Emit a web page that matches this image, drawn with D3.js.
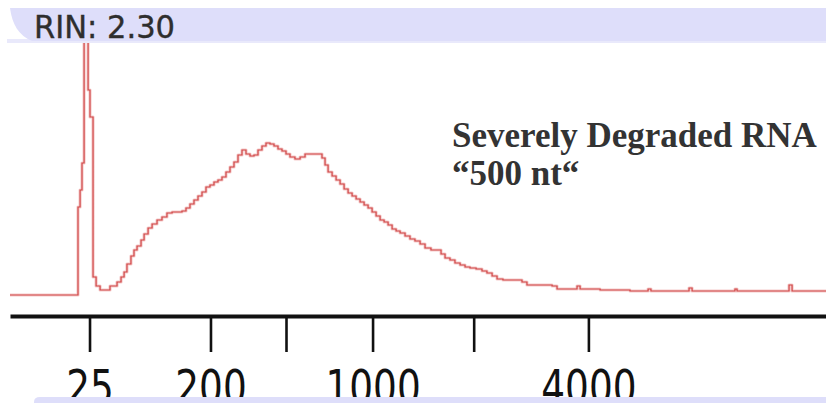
<!DOCTYPE html>
<html>
<head>
<meta charset="utf-8">
<script src="https://cdn.jsdelivr.net/npm/d3@7"></script>
<style>
  body { margin: 0; background: #fff; }
  svg { display: block; }
</style>
</head>
<body>
<div class="canvas"></div>
<script>
// migration time (s) and fluorescence (FU)
const times = [19.00, 23.19, 23.25, 23.38, 23.50, 23.63, 23.75, 23.88, 24.00, 24.19,
  24.38, 24.63, 25.00, 25.25, 25.69, 25.94, 26.13, 26.31, 26.56, 26.75,
  26.94, 27.19, 27.38, 27.63, 27.88, 28.19, 28.50, 28.81, 29.13, 29.44,
  29.75, 30.00, 30.25, 30.50, 30.75, 31.00, 31.25, 31.50, 31.75, 32.00,
  32.25, 32.50, 32.75, 33.00, 33.25, 33.50, 33.75, 34.00, 34.25, 34.50,
  34.75, 35.00, 35.25, 35.50, 35.75, 36.00, 36.25, 36.50, 36.81, 37.13,
  37.44, 37.88, 38.25, 38.50, 38.69, 38.88, 39.13, 39.38, 39.63, 39.88,
  40.13, 40.38, 40.63, 40.88, 41.13, 41.38, 41.63, 41.88, 42.13, 42.38,
  42.63, 42.88, 43.13, 43.38, 43.69, 44.00, 44.31, 44.63, 44.94, 45.31,
  45.69, 45.94, 46.19, 46.50, 46.81, 47.13, 47.44, 47.75, 48.13, 48.50,
  48.81, 49.13, 49.44, 49.81, 50.69, 51.00, 51.31, 52.88, 53.19, 54.25,
  54.44, 54.63, 55.88, 57.75, 58.75, 58.88, 59.06, 61.31, 61.44, 61.63,
  64.19, 64.31, 64.44, 67.56, 67.69, 67.88, 70.00];

const fu = [0, 0, 17.6, 21.0, 26.4, 55, 55, 41.0, 35.6, 3.6,
  1.8, 1.0, 1.0, 1.8, 2.6, 3.6, 4.6, 6.2, 7.8, 9.0,
  9.8, 11.0, 12.2, 13.4, 14.2, 15.0, 15.6, 16.4, 16.6, 16.6,
  16.8, 17.4, 18.2, 19.0, 19.8, 20.6, 21.6, 22.0, 22.6, 23.0,
  23.6, 24.6, 25.6, 26.6, 28.0, 29.0, 28.2, 27.8, 28.0, 29.0,
  29.8, 30.4, 30.2, 29.8, 29.2, 28.8, 28.2, 27.6, 27.2, 27.6,
  28.2, 28.2, 28.2, 27.4, 26.0, 24.6, 23.8, 23.0, 22.2, 21.2,
  20.4, 19.8, 19.2, 18.6, 18.0, 17.4, 16.6, 15.8, 15.0, 14.6,
  14.0, 13.2, 12.8, 12.4, 11.8, 11.2, 10.8, 10.2, 9.4, 9.0,
  9.0, 8.2, 7.4, 7.0, 6.4, 6.0, 5.6, 5.4, 5.2, 4.8,
  4.4, 3.8, 3.2, 3.0, 3.0, 2.6, 2.0, 1.8, 1.2, 1.2,
  1.8, 1.2, 1.0, 0.8, 0.8, 1.2, 0.8, 0.8, 1.4, 0.8,
  0.8, 1.2, 0.8, 0.8, 2.0, 0.8, 0.8];

// ladder sizes (nt) and where they migrate (s)
const ladderNt = [25, 200, 500, 1000, 2000, 4000];
const ladderTimes = [23.97, 31.53, 36.25, 41.66, 47.98, 55.15];
const labeledNt = [25, 200, 1000, 4000];

const rinText = "RIN: 2.30";
const titleLines = ["Severely Degraded RNA", "\u201C500 nt\u201C"];

const W = 826, H = 403;

const svg = d3.select(".canvas").append("svg").attr("width", W).attr("height", H);

const x = d3.scaleLinear().domain([19, 70]).range([10, 826]);
const y = d3.scaleLinear().domain([0, 50]).range([295, 45]);

const trace = times.map((t, i) => [t, fu[i]]);

const line = d3.line()
    .x(d => x(d[0]))
    .y(d => y(d[1]))
    .curve(d3.curveStepAfter);

// soft pink halo under the red trace
svg.append("path")
    .datum(trace)
    .attr("d", line)
    .attr("fill", "none")
    .attr("stroke", "#f5cccc")
    .attr("stroke-width", 3.2)
    .attr("stroke-linejoin", "round");

svg.append("path")
    .datum(trace)
    .attr("d", line)
    .attr("fill", "none")
    .attr("stroke", "#d04545")
    .attr("stroke-width", 1.2);

// header band (covers the clipped spike)
svg.append("rect")
    .attr("x", 7).attr("y", 39)
    .attr("width", W - 7).attr("height", 4)
    .attr("fill", "#e9e9fb");

svg.append("path")
    .attr("d", "M10,8 H826 V41 H32 C19,36 12,24 10,8 Z")
    .attr("fill", "#dedefa");

svg.append("text")
    .text(rinText)
    .attr("x", 34)
    .attr("y", 38)
    .attr("textLength", 141)
    .attr("lengthAdjust", "spacingAndGlyphs")
    .attr("font-family", "DejaVu Sans, Verdana, sans-serif")
    .attr("font-size", 32)
    .attr("fill", "#2e2e2e")
    .attr("stroke", "#2e2e2e")
    .attr("stroke-width", 0.4);

// title
svg.append("g")
    .selectAll("text")
    .data(titleLines)
    .join("text")
    .text(d => d)
    .attr("x", 452)
    .attr("y", (d, i) => 147 + i * 38)
    .attr("font-family", "Liberation Serif, Times New Roman, serif")
    .attr("font-weight", "bold")
    .attr("font-size", 35)
    .attr("fill", "#333");

// size axis
const axis = d3.axisBottom(x)
    .tickValues(ladderTimes)
    .tickSize(36)
    .tickSizeOuter(0)
    .tickFormat((d, i) => labeledNt.includes(ladderNt[i]) ? ladderNt[i] : "");

const gAxis = svg.append("g")
    .attr("transform", "translate(0,316)")
    .call(axis);

gAxis.select(".domain")
    .attr("stroke", "#111")
    .attr("stroke-width", 4);

gAxis.selectAll(".tick line")
    .attr("stroke", "#111")
    .attr("stroke-width", 2.6);

gAxis.selectAll(".tick text")
    .attr("y", 88)
    .attr("dy", 0)
    .attr("transform", "scale(0.78,1)")
    .attr("font-family", "DejaVu Sans, Verdana, sans-serif")
    .attr("font-size", 48)
    .attr("fill", "#111");

// bottom band
svg.append("path")
    .attr("d", "M34,403 V402 Q34,397 40,397 H826 V403 Z")
    .attr("fill", "#dedefa");
</script>
</body>
</html>
